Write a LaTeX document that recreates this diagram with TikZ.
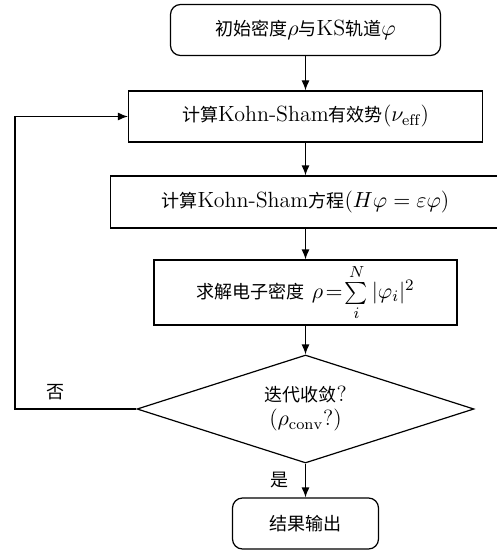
\documentclass[tikz,border=0pt]{standalone}
\usepackage{amsmath}
\usepackage{amssymb}
\usepackage{fontspec}
\newfontfamily\cjk[Scale=0.82]{Noto Sans CJK SC}
\usepackage{tikz}
\usetikzlibrary{arrows.meta,shapes,positioning}
\tikzset{>={Latex[length=5pt,width=4pt]}}

\begin{document}
\begin{tikzpicture}[x=0.5pt, y=-0.5pt,
                    font=\fontsize{11}{14}\selectfont,
                    rbox/.style={draw, line width=0.6pt, rounded corners=5pt, inner sep=0pt, minimum height=25.5pt},
                    pbox/.style={draw, line width=0.6pt, inner sep=0pt, minimum height=25.5pt},
                    judge/.style={draw, line width=0.6pt, diamond, shape aspect=3.1, inner sep=0pt,
                                  minimum width=168.5pt, minimum height=54pt, align=center,
                                  font=\fontsize{11}{12}\selectfont},
                    flow/.style={->, line width=0.6pt},
                   ]

\useasboundingbox (0,0) rectangle (497,551);

\node[rbox, minimum width=135pt] (init) at (305.5,30) {{\cjk 初始密度}$\rho${\cjk 与}KS{\cjk 轨道}$\varphi$};
\node[pbox, minimum width=177pt] (veff) at (305.5,116.5) {{\cjk 计算}Kohn-Sham{\cjk 有效势}($\nu_{\mathrm{eff}}$)};
\node[pbox, minimum width=195pt, minimum height=26pt] (kseq) at (305.5,202) {{\cjk 计算}Kohn-Sham{\cjk 方程}($H\varphi=\varepsilon\varphi$)};
\node[pbox, minimum width=151.5pt, minimum height=32.5pt] (dens) at (305.5,292.5) {{\cjk 求解电子密度} $\rho\!=\!\sum\limits_{i}^{N}|\varphi_i|^2$};
\node[judge] (conv) at (305.5,409) {{\cjk 迭代收敛}?\\($\rho_{\mathrm{conv}}$?)};
\node[rbox, minimum width=73pt] (out) at (305.5,523.5) {{\cjk 结果输出}};

\coordinate (back) at (15,409);

\draw[flow] (init) -- (veff);
\draw[flow] (veff) -- (kseq);
\draw[flow] (kseq) -- (dens);
\draw[flow] (dens) -- (conv);
\draw[flow] (conv) -- node[left=5pt]{\cjk 是} (out);
\draw[flow] (conv.west) -- node[above=1pt, pos=0.67]{\cjk 否} (back) |- (veff.west);

\end{tikzpicture}
\end{document}
